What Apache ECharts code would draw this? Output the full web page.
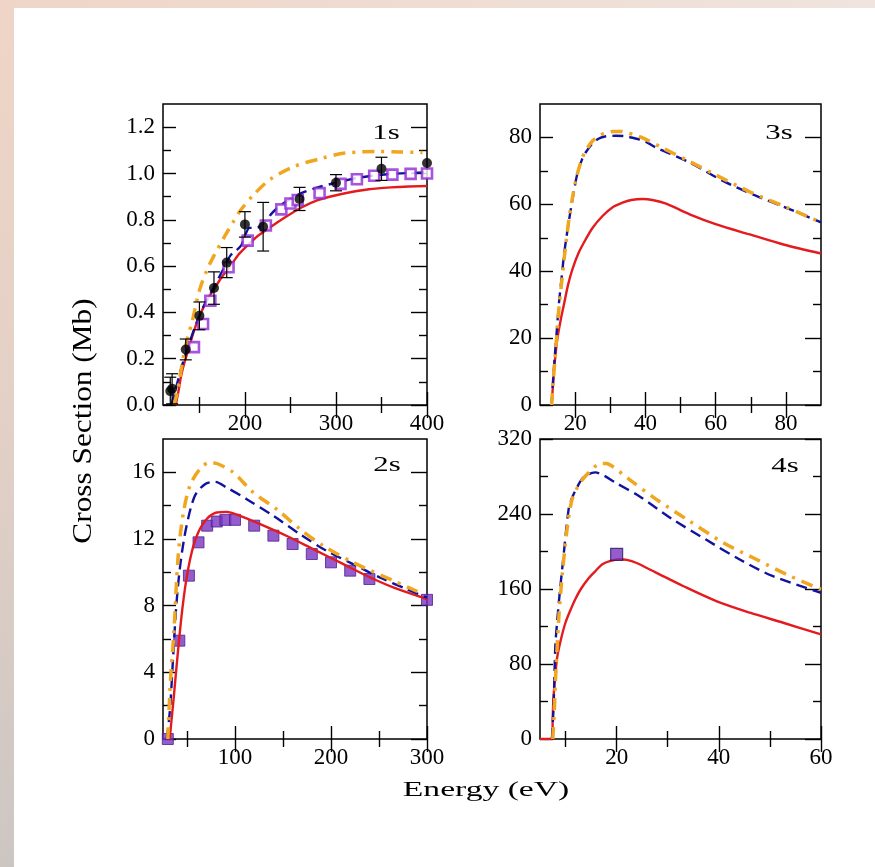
<!DOCTYPE html>
<html>
<head>
<meta charset="utf-8">
<script src="https://cdn.jsdelivr.net/npm/echarts@6/dist/echarts.min.js"></script>
<style>
html,body{margin:0;padding:0;background:#fff;}
#chart{width:875px;height:867px;}
</style>
</head>
<body>
<div id="chart"></div>
<script>
// ---------------- DATA ----------------
// Panel 1s
const s1Red = [[124,0],[127,0.06],[130,0.127],[134,0.19],[138,0.24],[144,0.32],[150,0.383],[158,0.45],[166,0.5],[175,0.555],[184,0.6],[193,0.65],[203,0.69],[214,0.73],[225,0.76],[240,0.8],[262,0.853],[280,0.885],[299,0.905],[320,0.922],[336,0.932],[360,0.94],[380,0.944],[400,0.946]];
const s1Blue = [[119,0],[122,0.04],[126,0.1],[132,0.185],[140,0.28],[147,0.357],[155,0.43],[162,0.48],[170,0.54],[178,0.6],[184,0.645],[190,0.665],[196,0.69],[201,0.74],[205,0.765],[210,0.765],[216,0.77],[222,0.79],[230,0.83],[240,0.865],[250,0.89],[262,0.915],[280,0.94],[300,0.96],[320,0.978],[340,0.99],[360,0.998],[400,1.005]];
const s1Orange = [[122,0],[126,0.06],[132,0.2],[137,0.29],[142,0.36],[150,0.495],[158,0.58],[166,0.645],[178,0.73],[187,0.79],[195,0.84],[210,0.91],[228,0.975],[254,1.03],[284,1.065],[310,1.088],[347,1.095],[370,1.093],[395,1.09]];
const s1ExpX = [118, 120, 135, 150, 166, 180, 200, 220, 260, 300, 350, 400];
const s1ExpY = [0.06, 0.07, 0.24, 0.385, 0.505, 0.615, 0.78, 0.77, 0.89, 0.96, 1.02, 1.045];
const s1ExpErr = [0.06, 0.065, 0.045, 0.06, 0.07, 0.065, 0.055, 0.105, 0.05, 0.035, 0.05, 0];
const s1SqX = [144, 154, 162, 182, 203, 223, 240, 250, 258, 282, 305, 323, 342, 362, 382, 400];
const s1SqY = [0.25, 0.35, 0.45, 0.595, 0.71, 0.775, 0.845, 0.87, 0.885, 0.915, 0.955, 0.975, 0.99, 0.995, 0.998, 1.0];

// Panel 3s
const s3Red = [[13.3,0],[13.7,6],[14,10.5],[14.9,19.5],[16,26],[16.9,30.5],[18,36],[19.2,40.5],[21,45.5],[23,49.5],[25,53],[27.8,56.5],[30.5,59],[33.5,60.5],[36,61.3],[39.2,61.6],[42,61.3],[45.9,60.2],[52.6,57],[60.2,54],[69.7,51],[79.3,48],[90,45.3]];
const s3Blue = [[13.3,0],[13.7,7],[14.2,14.5],[14.8,22.5],[15.4,30.5],[16.2,38.5],[16.9,45.5],[18.3,55.5],[19.5,63],[20.6,69],[22,73.5],[23,75.5],[25,78.3],[26.8,79.7],[28.5,80.3],[31.6,80.5],[34,80.4],[36.4,79.9],[40,78.8],[43,77],[52.6,72.5],[62.1,67],[71.6,62.5],[81.2,58.5],[90,54.6]];
const s3Orange = [[13.3,0],[13.7,6],[14.2,13],[14.8,21],[15.4,29],[16.2,37],[16.9,44],[18.3,56],[19.5,63.5],[20.6,69],[22,73.8],[23,76],[25,79],[27,80.6],[29,81.4],[31,81.8],[33,81.8],[35,81.4],[38,80.4],[40,79.5],[45,76.8],[52.6,72.8],[60,68.8],[70,63.6],[80,59.2],[90,54.6]];

// Panel 2s
const s2SqX = [30, 42, 52, 62, 71, 81, 90, 100, 120, 140, 160, 180, 200, 220, 240, 300];
const s2SqY = [0, 5.9, 9.8, 11.8, 12.8, 13.05, 13.15, 13.15, 12.8, 12.2, 11.7, 11.1, 10.6, 10.1, 9.6, 8.35];
const s2Red = [[32,0],[34,1.2],[36.3,2.56],[39.8,4.77],[44.3,7.37],[48.8,9.38],[54.8,11.18],[61.7,12.39],[70.5,13.2],[80.9,13.59],[91.4,13.63],[105.3,13.39],[126.2,12.89],[154,12.18],[181.9,11.38],[209.8,10.58],[237.6,9.78],[265.5,9.08],[300,8.4]];
const s2Blue = [[29,0],[31,1.0],[32.8,2.16],[35.6,4.97],[39.1,8.18],[43.3,10.58],[49.5,12.78],[58.2,14.59],[68.7,15.29],[79.1,15.43],[91.3,15.09],[112.2,14.39],[140,13.39],[167.8,12.28],[195.7,11.28],[223.5,10.48],[251.4,9.68],[279.2,8.98],[300,8.48]];
const s2Orange = [[30,0],[32.8,3.55],[36.3,6.37],[40.8,10.98],[46,13.49],[53,15.19],[63.4,16.19],[73.8,16.6],[82.5,16.5],[98.1,16],[119,14.79],[143.4,13.79],[167.8,12.59],[192.2,11.58],[223.5,10.58],[265.5,9.48],[290,8.85]];

// Panel 4s
const s4Red = [[5,0],[7.33,0],[7.5,25],[7.66,45.6],[8.3,84.8],[9,104],[9.98,124],[11,138],[11.9,149],[13,160],[14.6,172],[16,180],[17.2,186.4],[18.8,190],[20.5,191.7],[22,191],[23.8,188],[27.7,177.5],[33,163.2],[39.5,147.1],[46.1,134.7],[52.6,124],[60,111.5]];
const s4Blue = [[7.33,0],[7.66,34.9],[8,99],[8.4,128],[8.8,152.5],[9.6,195],[10.6,245],[11.2,256],[11.9,264.7],[13.5,279],[15.8,284.4],[17.5,281],[19.7,273.7],[24.3,259.4],[30.9,234.5],[37.4,213],[44,191.7],[50.5,173.9],[60,156]];
const s4Orange = [[7.5,0],[7.8,30],[8,59.9],[8.7,131],[9.4,177.5],[10.3,223.8],[11.3,255.9],[12.9,273.7],[14.6,284.4],[16.9,294],[18,294],[19.2,290.8],[22.4,277.2],[27.7,255.9],[34.2,232.7],[40.8,209.6],[47.3,191.7],[53.9,173.9],[60,159.6]];
const s4SqX = [20];
const s4SqY = [197];

// Axis ranges and ticks
const panelNames = ['1s', '3s', '2s', '4s'];
const xRanges = [[110, 400], [10, 90], [25, 300], [5, 60]];
const yRanges = [[0, 1.3], [0, 90], [0, 18], [0, 320]];
const xMajor = [[200, 300, 400], [20, 40, 60, 80], [100, 200, 300], [20, 40, 60]];
const xMinor = [[150, 250, 350], [30, 50, 70], [50, 150, 250], [10, 30, 50]];
const xLabels = [[200, 300, 400], [20, 40, 60, 80], [100, 200, 300], [20, 40, 60]];
const yMajor = [[0, 0.2, 0.4, 0.6, 0.8, 1.0, 1.2], [0, 20, 40, 60, 80], [0, 4, 8, 12, 16], [0, 80, 160, 240, 320]];
const yMinor = [[0.1, 0.3, 0.5, 0.7, 0.9, 1.1], [10, 30, 50, 70], [2, 6, 10, 14], [40, 120, 200, 280]];
const yLabels = yMajor;
const yDecimals = [1, 0, 0, 0];
const xTitle = 'Energy (eV)';
const yTitle = 'Cross Section (Mb)';

// ---------------- LAYOUT ----------------
const grids = [
  {left: 163, top: 104, width: 264, height: 301},
  {left: 540, top: 104, width: 281, height: 301},
  {left: 163, top: 439, width: 264, height: 300},
  {left: 540, top: 439, width: 281, height: 300}
];
const labelPos = [[386, 133], [779, 133], [387, 465], [785, 466]];

const FONT = 'Liberation Serif';
const RED = '#e31b1f', BLUE = '#1212a0', ORANGE = '#f0a61f';
const MAJ = 13, MIN = 8;

const xAxes = [], yAxes = [];
function tick(values, len) {
  return {show: true, inside: true, length: len, customValues: values, lineStyle: {color: '#000', width: 1.4}};
}
grids.forEach((g, i) => {
  const bx = {type: 'value', gridIndex: i, min: xRanges[i][0], max: xRanges[i][1], splitLine: {show: false}, axisLine: {show: false}};
  const lab = {show: true, customValues: xLabels[i], margin: 7, color: '#000', fontFamily: FONT, fontSize: 23};
  xAxes.push(Object.assign({}, bx, {position: 'bottom', axisTick: tick(xMajor[i], MAJ), axisLabel: lab}));
  xAxes.push(Object.assign({}, bx, {position: 'bottom', axisTick: tick(xMinor[i], MIN), axisLabel: {show: false}}));
  xAxes.push(Object.assign({}, bx, {position: 'top', axisTick: tick(xMajor[i], MAJ), axisLabel: {show: false}}));
  xAxes.push(Object.assign({}, bx, {position: 'top', axisTick: tick(xMinor[i], MIN), axisLabel: {show: false}}));
  const by = {type: 'value', gridIndex: i, min: yRanges[i][0], max: yRanges[i][1], splitLine: {show: false}, axisLine: {show: false}};
  const d = yDecimals[i];
  const ylab = {show: true, customValues: yLabels[i], margin: 8, color: '#000', fontFamily: FONT, fontSize: 23, formatter: v => Number(v).toFixed(d)};
  yAxes.push(Object.assign({}, by, {position: 'left', axisTick: tick(yMajor[i], MAJ), axisLabel: ylab}));
  yAxes.push(Object.assign({}, by, {position: 'left', axisTick: tick(yMinor[i], MIN), axisLabel: {show: false}}));
  yAxes.push(Object.assign({}, by, {position: 'right', axisTick: tick(yMajor[i], MAJ + 3), axisLabel: {show: false}}));
  yAxes.push(Object.assign({}, by, {position: 'right', axisTick: tick(yMinor[i], MIN), axisLabel: {show: false}}));
});

function line(i, data, color, type, width) {
  return {type: 'line', xAxisIndex: i * 4, yAxisIndex: i * 4, data: data, showSymbol: false, smooth: 0.3,
    lineStyle: {color: color, width: width, type: type}, z: 2, clip: true};
}
const zip = (xs, ys) => xs.map((x, k) => [x, ys[k]]);

const series = [];
const curves = [[s1Red, s1Blue, s1Orange], [s3Red, s3Blue, s3Orange], [s2Red, s2Blue, s2Orange], [s4Red, s4Blue, s4Orange]];
curves.forEach((c, i) => {
  series.push(line(i, c[0], RED, 'solid', 2.4));
  series.push(line(i, c[1], BLUE, [11, 6], 2.4));
  series.push(line(i, c[2], ORANGE, [12, 7, 3, 7], 3.5));
});
// 1s open squares
series.push({type: 'scatter', xAxisIndex: 0, yAxisIndex: 0, data: zip(s1SqX, s1SqY), symbol: 'rect', symbolSize: 10,
  itemStyle: {color: '#ffffff', borderColor: '#9128d4', borderWidth: 2.6}, z: 4});
// 1s error bars
series.push({type: 'custom', xAxisIndex: 0, yAxisIndex: 0, z: 5,
  data: s1ExpX.map((x, k) => [x, s1ExpY[k], s1ExpErr[k]]),
  renderItem: function (params, api) {
    const x = api.value(0), y = api.value(1), e = api.value(2);
    if (!e) return {type: 'group', children: []};
    const t = api.coord([x, y + e]), b = api.coord([x, y - e]);
    const hw = 6, st = {stroke: '#000', lineWidth: 1.2};
    return {type: 'group', children: [
      {type: 'line', shape: {x1: t[0], y1: t[1], x2: b[0], y2: b[1]}, style: st},
      {type: 'line', shape: {x1: t[0] - hw, y1: t[1], x2: t[0] + hw, y2: t[1]}, style: st},
      {type: 'line', shape: {x1: b[0] - hw, y1: b[1], x2: b[0] + hw, y2: b[1]}, style: st}
    ]};
  }
});
series.push({type: 'scatter', xAxisIndex: 0, yAxisIndex: 0, data: zip(s1ExpX, s1ExpY), symbol: 'circle', symbolSize: 10,
  itemStyle: {color: '#000'}, z: 6});
// 2s filled squares
series.push({type: 'scatter', xAxisIndex: 8, yAxisIndex: 8, data: zip(s2SqX, s2SqY), symbol: 'rect', symbolSize: 11,
  itemStyle: {color: '#7a33c0', borderColor: '#4b2290', borderWidth: 1}, z: 1});
// 4s filled square
series.push({type: 'scatter', xAxisIndex: 12, yAxisIndex: 12, data: zip(s4SqX, s4SqY), symbol: 'rect', symbolSize: 12,
  itemStyle: {color: '#7a33c0', borderColor: '#2b1a60', borderWidth: 1.2}, z: 4});

const graphic = [
  {type: 'rect', left: 0, top: 0, z: -10, shape: {width: 875, height: 8},
    style: {fill: new echarts.graphic.LinearGradient(0, 0, 1, 0, [{offset: 0, color: '#efd5c7'}, {offset: 1, color: '#efe4de'}])}},
  {type: 'rect', left: 0, top: 0, z: -10, shape: {width: 14, height: 867},
    style: {fill: new echarts.graphic.LinearGradient(0, 0, 0, 1, [{offset: 0, color: '#efd5c7'}, {offset: 0.5, color: '#e2d0c6'}, {offset: 1, color: '#ccc6c3'}])}},
  {type: 'text', x: 486, y: 790, scaleX: 1.6, z: 10,
    style: {text: xTitle, font: '21px "Liberation Serif"', fill: '#000', textAlign: 'center', textVerticalAlign: 'middle'}},
  {type: 'text', x: 84, y: 421, rotation: Math.PI / 2, scaleX: 1.16, z: 10,
    style: {text: yTitle, font: '27px "Liberation Serif"', fill: '#000', textAlign: 'center', textVerticalAlign: 'middle'}}
];
panelNames.forEach((n, i) => {
  graphic.push({type: 'text', x: labelPos[i][0], y: labelPos[i][1], scaleX: 1.4, z: 10,
    style: {text: n, font: '22px "Liberation Serif"', fill: '#000', textAlign: 'center', textVerticalAlign: 'middle'}});
});

const chart = echarts.init(document.getElementById('chart'), null, {renderer: 'canvas'});
chart.setOption({
  animation: false,
  backgroundColor: '#ffffff',
  grid: grids.map(g => Object.assign({show: true, borderColor: '#000', borderWidth: 1.5, backgroundColor: 'transparent', containLabel: false, outerBoundsMode: 'none'}, g)),
  xAxis: xAxes,
  yAxis: yAxes,
  series: series,
  graphic: graphic
});
</script>
</body>
</html>
